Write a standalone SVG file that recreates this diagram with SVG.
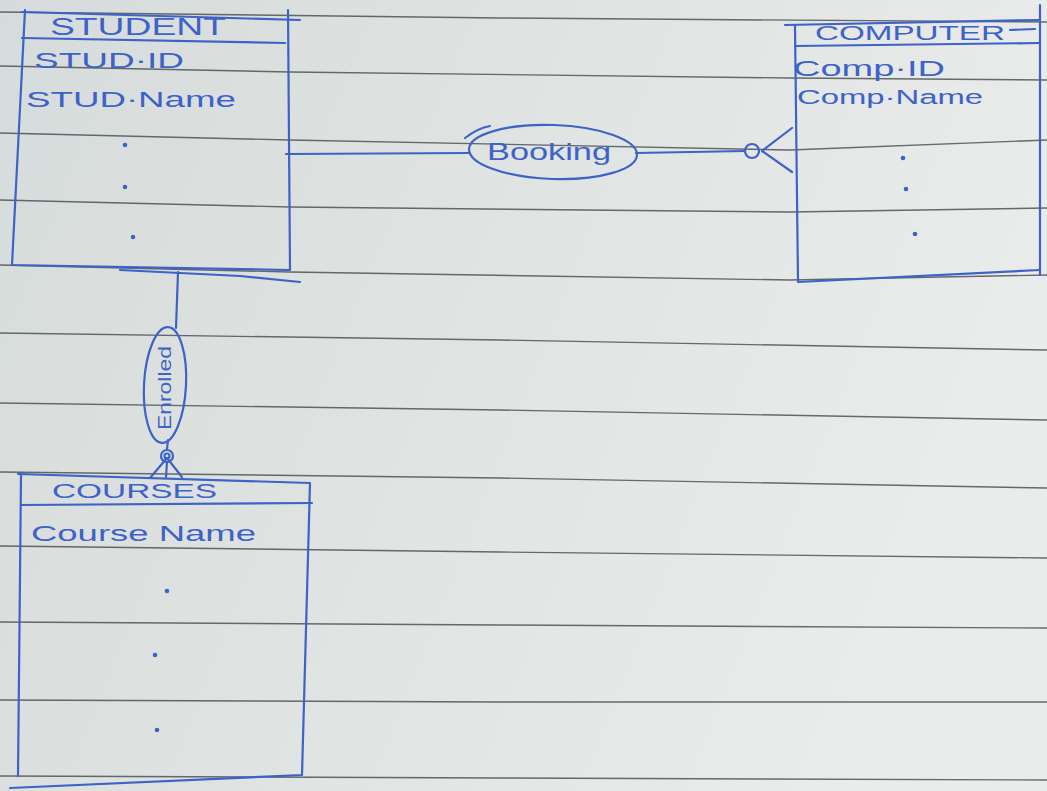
<svg xmlns="http://www.w3.org/2000/svg" width="1047" height="791" viewBox="0 0 1047 791">
<defs>
<linearGradient id="paper" x1="0" y1="0" x2="1" y2="0.3">
<stop offset="0" stop-color="#d6dcdb"/>
<stop offset="0.6" stop-color="#e1e5e4"/>
<stop offset="1" stop-color="#eaeceb"/>
</linearGradient>
</defs>
<style>
.rule{fill:none;stroke:#44494c;stroke-width:1.4;opacity:0.8}
.ink{fill:none;stroke:#3d62c8;stroke-width:2.2;stroke-linecap:round;stroke-linejoin:round}
.t{font-family:"Liberation Sans",Arial,sans-serif;fill:#3d62c8}
.dot{fill:#3d62c8}
</style>
<rect width="1047" height="791" fill="url(#paper)"/>
<g id="ruled-lines">
<polyline class="rule" points="0,12 500,18 1047,22"/>
<polyline class="rule" points="0,66 290,72 790,78 1047,80"/>
<polyline class="rule" points="0,133 290,140 790,150 1047,140"/>
<polyline class="rule" points="0,200 290,207 790,212 1047,208"/>
<polyline class="rule" points="0,265 290,272 790,280 1047,275"/>
<polyline class="rule" points="0,333 500,340 1047,350"/>
<polyline class="rule" points="0,403 500,410 1047,420"/>
<polyline class="rule" points="0,472 500,478 1047,488"/>
<polyline class="rule" points="0,546 500,552 1047,558"/>
<polyline class="rule" points="0,622 500,625 1047,628"/>
<polyline class="rule" points="0,700 500,702 1047,702"/>
<polyline class="rule" points="0,776 500,778 1047,780"/>
</g>
<g id="connectors">
<polyline class="ink" points="286,154 470,153"/>
<polyline class="ink" points="636,153 745,151"/>
<circle class="ink" cx="752" cy="151" r="7"/>
<polyline class="ink" points="792,128 762,151 792,172"/>
<polyline class="ink" points="120,270 240,276 300,282"/>
<polyline class="ink" points="178,272 176,328"/>
<polyline class="ink" points="168,440 167,449"/>
<circle class="ink" cx="167" cy="456" r="6"/>
<circle class="ink" cx="167" cy="456" r="2.5"/>
<polyline class="ink" points="150,478 167,458 182,477"/>
<polyline class="ink" points="167,462 166,477"/>
</g>
<g id="booking">
<ellipse class="ink" cx="553" cy="152" rx="84" ry="27" transform="rotate(2 553 152)"/>
<path class="ink" d="M465,138 Q478,128 490,126"/>
<text class="t" x="487" y="160" font-size="24" textLength="124" lengthAdjust="spacingAndGlyphs">Booking</text>
</g>
<g id="enrolled">
<ellipse class="ink" cx="165" cy="385" rx="21" ry="58" transform="rotate(3 165 385)"/>
<text class="t" font-size="19" transform="translate(171,430) rotate(-90)" textLength="84" lengthAdjust="spacingAndGlyphs">Enrolled</text>
</g>
<g id="student">
<polyline class="ink" points="25,10 12,265 290,270 288,10"/>
<polyline class="ink" points="22,12 300,20"/>
<polyline class="ink" points="22,38 285,43"/>
<text class="t" x="50" y="35" font-size="24" textLength="176" lengthAdjust="spacingAndGlyphs">STUDENT</text>
<text class="t" x="34" y="68" font-size="22" textLength="150" lengthAdjust="spacingAndGlyphs">STUD·ID</text>
<text class="t" x="26" y="107" font-size="22" textLength="210" lengthAdjust="spacingAndGlyphs">STUD·Name</text>
<circle class="dot" cx="125" cy="145" r="2.3"/>
<circle class="dot" cx="125" cy="187" r="2.3"/>
<circle class="dot" cx="133" cy="237" r="2.3"/>
</g>
<g id="computer">
<polyline class="ink" points="785,25 1040,20"/>
<polyline class="ink" points="795,46 1040,43"/>
<polyline class="ink" points="795,25 798,282 1040,270"/>
<polyline class="ink" points="1040,5 1040,275"/>
<polyline class="ink" points="1010,30 1035,29"/>
<text class="t" x="815" y="40" font-size="20" textLength="190" lengthAdjust="spacingAndGlyphs">COMPUTER</text>
<text class="t" x="793" y="76" font-size="22" textLength="152" lengthAdjust="spacingAndGlyphs">Comp·ID</text>
<text class="t" x="797" y="104" font-size="20" textLength="186" lengthAdjust="spacingAndGlyphs">Comp·Name</text>
<circle class="dot" cx="903" cy="158" r="2.3"/>
<circle class="dot" cx="906" cy="189" r="2.3"/>
<circle class="dot" cx="915" cy="234" r="2.3"/>
</g>
<g id="courses">
<polyline class="ink" points="18,474 310,483 302,775 10,788"/>
<polyline class="ink" points="21,475 18,776"/>
<polyline class="ink" points="21,505 312,503"/>
<text class="t" x="52" y="498" font-size="21" textLength="165" lengthAdjust="spacingAndGlyphs">COURSES</text>
<text class="t" x="31" y="541" font-size="22" textLength="225" lengthAdjust="spacingAndGlyphs">Course Name</text>
<circle class="dot" cx="167" cy="591" r="2.3"/>
<circle class="dot" cx="155" cy="655" r="2.3"/>
<circle class="dot" cx="157" cy="730" r="2.3"/>
</g>
</svg>
